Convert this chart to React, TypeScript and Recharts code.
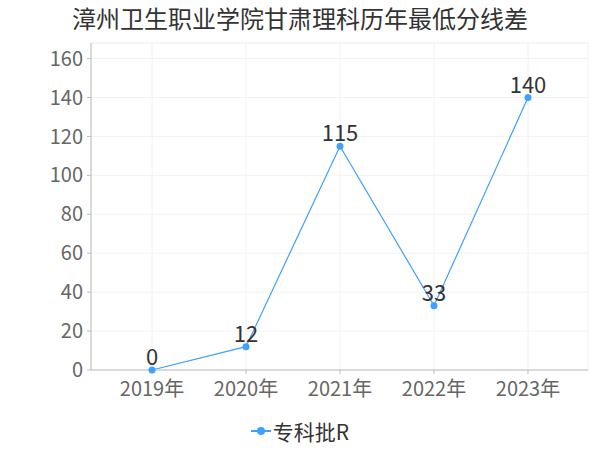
import React from "react"
import { LineChart, Line, XAxis, YAxis, CartesianGrid, Legend, LabelList, ReferenceLine } from "recharts"

const title = "漳州卫生职业学院甘肃理科历年最低分线差"
const years = ["2019年", "2020年", "2021年", "2022年", "2023年"]
const seriesName = "专科批R"
const values = [0, 12, 115, 33, 140]
const yTicks = [0, 20, 40, 60, 80, 100, 120, 140, 160]

const FONT = '"Noto Sans CJK SC", "Noto Sans", sans-serif'
const BLUE = "#3ea0ff"

const chartData = years.map((year, i) => ({ year, value: values[i] }))

const LegendContent = () => (
  <div style={{ display: "flex", justifyContent: "center", alignItems: "center", fontFamily: FONT }}>
    <svg width={20} height={12} style={{ marginRight: 2 }}>
      <line x1={0} y1={6} x2={20} y2={6} stroke={BLUE} strokeWidth={2} />
      <circle cx={10} cy={6} r={4} fill={BLUE} />
    </svg>
    <span style={{ fontSize: 21, color: "#333" }}>{seriesName}</span>
  </div>
)

export default function App() {
  return (
    <div style={{ position: "absolute", left: 0, top: 0, width: 600, height: 450, background: "#fff" }}>
      <div
        style={{
          position: "absolute",
          top: 0,
          width: 600,
          textAlign: "center",
          fontFamily: FONT,
          fontSize: 24,
          color: "#333",
        }}
      >
        {title}
      </div>
      <LineChart
        width={600}
        height={450}
        data={chartData}
        margin={{ top: 43, right: 12, left: 0, bottom: 50 }}
        style={{ fontFamily: FONT }}
      >
        <CartesianGrid stroke="#f2f2f2" />
        <ReferenceLine y={168} stroke="#f2f2f2" />
        <XAxis
          dataKey="year"
          padding={{ left: 61, right: 60 }}
          height={30}
          stroke="#bbb"
          tickSize={4}
          tickMargin={8}
          tick={{ fill: "#666", fontSize: 20 }}
        />
        <YAxis
          width={91}
          domain={[0, 168]}
          ticks={yTicks}
          stroke="#bbb"
          tickSize={4}
          tickMargin={4}
          tick={{ fill: "#666", fontSize: 20 }}
        />
        <Legend verticalAlign="middle" wrapperStyle={{ top: 416, left: 0, width: 600 }} content={<LegendContent />} />
        <Line
          type="linear"
          dataKey="value"
          name={seriesName}
          stroke={BLUE}
          strokeWidth={1.2}
          dot={{ r: 3.5, fill: BLUE, stroke: BLUE, strokeWidth: 0 }}
          isAnimationActive={false}
        >
          <LabelList dataKey="value" position="top" offset={5} style={{ fill: "#333", fontSize: 22 }} />
        </Line>
      </LineChart>
    </div>
  )
}
